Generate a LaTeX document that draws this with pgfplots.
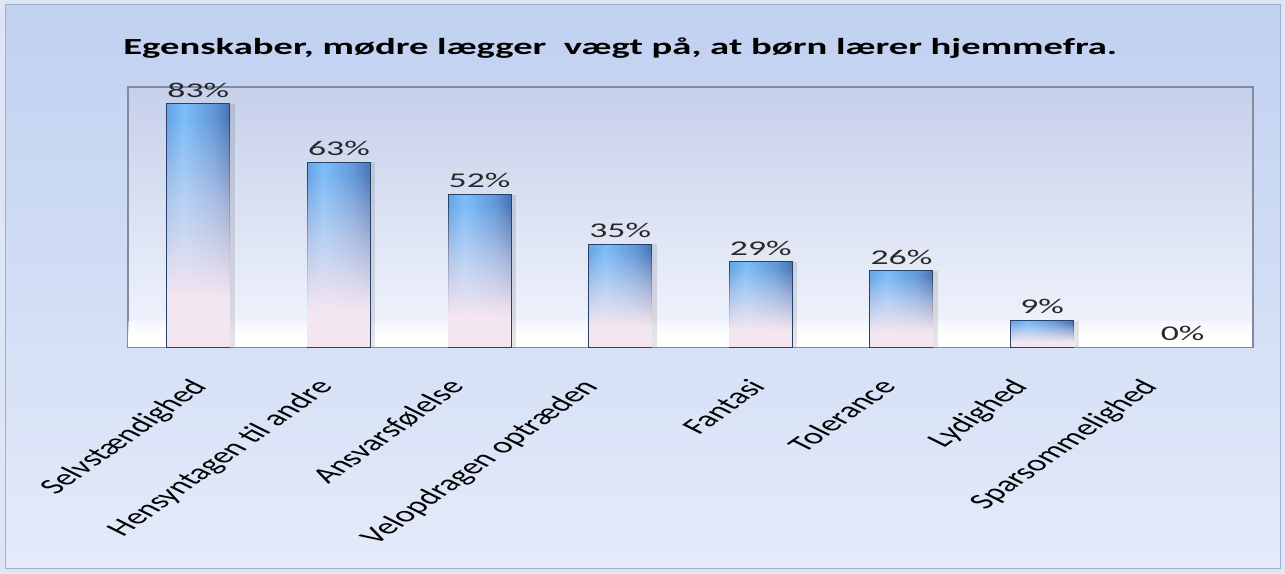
\documentclass[border=0pt]{standalone}
\usepackage{pgfplots}
\pgfplotsset{compat=1.18}
\usepackage{fontspec}
\setmainfont{Carlito}
\usetikzlibrary{fadings}
\pgfdeclareverticalshading{bfs}{100bp}{color(0bp)=(white); color(35bp)=(white); color(55bp)=(white!50!black); color(72bp)=(black); color(100bp)=(black)}
\pgfdeclarefading{barfade}{\pgfuseshading{bfs}}
\pgfdeclareverticalshading{ffs}{100bp}{color(0bp)=(white); color(45bp)=(white); color(100bp)=(black)}
\pgfdeclarefading{floorfade}{\pgfuseshading{ffs}}
\definecolor{bgtop}{RGB}{192,208,240}
\definecolor{bgbot}{RGB}{228,235,250}
\definecolor{walltop}{RGB}{198,208,234}
\definecolor{wallbot}{RGB}{242,245,253}
\definecolor{b0}{RGB}{52,96,164}
\definecolor{b1}{RGB}{82,138,208}
\definecolor{b2}{RGB}{124,190,248}
\definecolor{b3}{RGB}{98,152,218}
\definecolor{b4}{RGB}{56,92,152}
\definecolor{b5}{RGB}{34,56,98}
\definecolor{barpink}{RGB}{244,230,240}
\definecolor{barEdge}{RGB}{40,65,105}
\definecolor{frame}{RGB}{130,140,160}
\pgfdeclarehorizontalshading{barshade}{100bp}{color(0bp)=(b0); color(12bp)=(b1); color(38bp)=(b2); color(62bp)=(b3); color(84bp)=(b4); color(100bp)=(b5)}
\tikzset{lbl/.style={anchor=north east, inner sep=1pt, yshift=-29pt, xscale=1.68, rotate=50, font=\fontsize{22}{26}\selectfont, text=black}}
\newcommand{\onebar}[2]{%
  \addplot[bar shift=5pt, draw=none, fill=black, fill opacity=0.10] coordinates {(#1,#2)};
  \addplot[bar shift=0pt, draw=barEdge, line width=1pt, shading=barshade, shading angle=0] coordinates {(#1,#2)};
  \addplot[bar shift=0pt, draw=none, fill=barpink, path fading=barfade] coordinates {(#1,#2)};
}
\begin{document}
\begin{tikzpicture}[x=1pt,y=1pt]
\shade[top color=bgtop, bottom color=bgbot] (0,0) rectangle (1285,573);
\draw[line width=5, color={rgb,255:red,222;green,230;blue,246}] (2.5,2.5) rectangle (1282.5,570.5);
\draw[line width=1, color={rgb,255:red,160;green,175;blue,205}] (5,5) rectangle (1280,568);
\node[anchor=base west, inner sep=0, xscale=1.68, font=\fontsize{23}{28}\selectfont\bfseries] at (123,518) {Egenskaber, mødre lægger\ \ vægt på, at børn lærer hjemmefra.};
\begin{axis}[
  at={(128pt,226pt)}, anchor=south west,
  scale only axis, width=1125pt, height=260pt,
  xmin=-0.5, xmax=7.5, ymin=0, ymax=88.7,
  axis background/.style={top color=walltop, bottom color=wallbot},
  axis line style={draw=frame, line width=1.5pt},
  xtick=\empty, ytick=\empty,
  ybar, bar width=63pt,
  clip=false,
  /pgf/number format/assume math mode=true,
]
\fill[white, path fading=floorfade] (rel axis cs:0,0) rectangle (rel axis cs:1,0.10);
\addplot[draw=none, fill=none, bar shift=0pt,
  nodes near coords={\pgfmathprintnumber{\pgfplotspointmeta}\%},
  every node near coord/.append style={xscale=1.7, font=\fontsize{21}{25}\selectfont, text={rgb,255:red,40;green,40;blue,40}, yshift=3pt}]
  coordinates {(0,83) (1,63) (2,52) (3,35) (4,29) (5,26) (6,9) (7,0)};
\onebar{0}{83}
\onebar{1}{63}
\onebar{2}{52}
\onebar{3}{35}
\onebar{4}{29}
\onebar{5}{26}
\onebar{6}{9}
\node[xshift=-10pt, lbl] at (axis cs:0,0) {Selvstændighed};
\node[xshift=-25pt, lbl] at (axis cs:1,0) {Hensyntagen til andre};
\node[xshift=-34pt, lbl] at (axis cs:2,0) {Ansvarsfølelse};
\node[xshift=-41pt, lbl] at (axis cs:3,0) {Velopdragen optræden};
\node[xshift=-14pt, lbl] at (axis cs:4,0) {Fantasi};
\node[xshift=-24pt, lbl] at (axis cs:5,0) {Tolerance};
\node[xshift=-33pt, lbl] at (axis cs:6,0) {Lydighed};
\node[xshift=-44pt, lbl] at (axis cs:7,0) {Sparsommelighed};
\end{axis}
\end{tikzpicture}
\end{document}
